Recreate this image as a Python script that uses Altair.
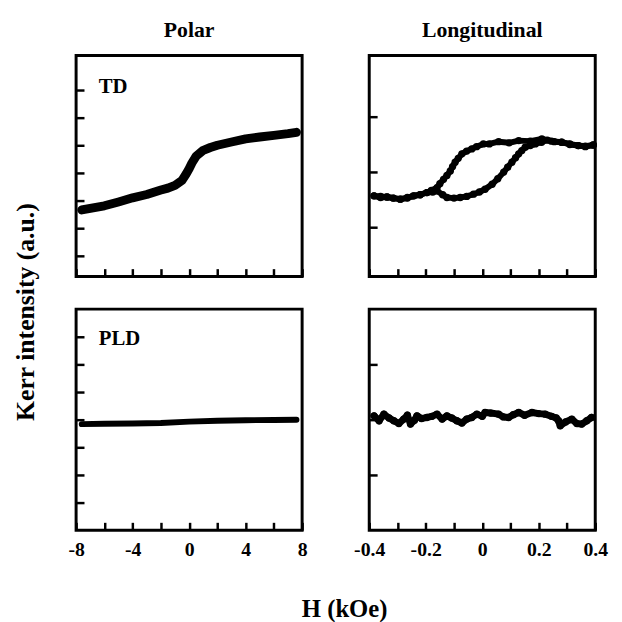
import altair as alt
import pandas as pd

FONT = "Liberation Serif"

# ---- data ----
# Polar, TD (H in kOe, Kerr intensity in a.u.)
pol_td_h = [-7.6, -7, -6, -5, -4, -3, -2, -1.5, -1, -0.5, -0.2, 0, 0.2, 0.5, 1, 1.5, 2, 3, 4, 5, 6, 7, 7.6]
pol_td_k = [2.66, 2.72, 2.81, 2.95, 3.10, 3.22, 3.38, 3.45, 3.55, 3.73, 3.97, 4.15, 4.36, 4.61, 4.82, 4.92, 5.00, 5.12, 5.23, 5.30, 5.36, 5.42, 5.47]

# Polar, PLD
pol_pld_h = [-7.6, -6, -4, -2, 0, 2, 4, 6, 7.6]
pol_pld_k = [3.84, 3.85, 3.86, 3.88, 3.93, 3.96, 3.98, 3.99, 4.00]

# Longitudinal, TD: field sweep down (upper branch) and up (lower branch)
lon_td_down_h = [0.393, 0.365, 0.340, 0.310, 0.281, 0.245, 0.211, 0.170, 0.129, 0.095, 0.058, 0.025, 0.004, -0.020, -0.037, -0.055, -0.072, -0.085, -0.096, -0.105, -0.113, -0.125, -0.137, -0.150, -0.160, -0.180, -0.196, -0.220, -0.243, -0.265, -0.290, -0.315, -0.337, -0.360, -0.383]
lon_td_down_k = [2.48, 2.45, 2.47, 2.50, 2.53, 2.55, 2.59, 2.55, 2.56, 2.52, 2.54, 2.50, 2.50, 2.45, 2.41, 2.37, 2.32, 2.24, 2.17, 2.09, 2.01, 1.93, 1.86, 1.78, 1.71, 1.66, 1.62, 1.58, 1.56, 1.52, 1.50, 1.52, 1.54, 1.53, 1.56]
lon_td_up_h = [-0.383, -0.360, -0.337, -0.315, -0.290, -0.265, -0.243, -0.220, -0.196, -0.175, -0.160, -0.140, -0.125, -0.100, -0.078, -0.055, -0.031, -0.010, 0.010, 0.035, 0.055, 0.076, 0.090, 0.105, 0.118, 0.129, 0.140, 0.152, 0.170, 0.188, 0.210, 0.230, 0.255, 0.281, 0.310, 0.340, 0.365, 0.393]
lon_td_up_k = [1.56, 1.55, 1.54, 1.52, 1.50, 1.53, 1.56, 1.58, 1.62, 1.63, 1.65, 1.58, 1.53, 1.52, 1.53, 1.55, 1.59, 1.63, 1.68, 1.77, 1.87, 1.99, 2.08, 2.17, 2.25, 2.32, 2.38, 2.44, 2.47, 2.50, 2.53, 2.57, 2.54, 2.53, 2.49, 2.47, 2.46, 2.48]

# Longitudinal, PLD
lon_pld_h = [-0.383, -0.365, -0.348, -0.330, -0.313, -0.295, -0.278, -0.265, -0.254, -0.240, -0.231, -0.215, -0.196, -0.178, -0.160, -0.142, -0.125, -0.108, -0.090, -0.072, -0.055, -0.037, -0.019, 0.000, 0.010, 0.030, 0.058, 0.075, 0.093, 0.110, 0.129, 0.150, 0.176, 0.200, 0.223, 0.245, 0.262, 0.270, 0.276, 0.295, 0.317, 0.335, 0.352, 0.370, 0.387]
lon_pld_k = [2.07, 1.98, 2.10, 2.03, 1.98, 1.93, 2.01, 2.08, 1.92, 1.99, 2.07, 2.02, 2.04, 2.06, 2.10, 2.01, 2.07, 2.03, 1.98, 1.94, 2.01, 2.04, 2.10, 2.06, 2.13, 2.12, 2.10, 2.05, 2.04, 2.09, 2.13, 2.08, 2.13, 2.11, 2.10, 2.06, 2.03, 1.98, 1.89, 1.96, 2.01, 1.93, 1.92, 1.98, 2.04]

pol_ticks_x = [-8, -6, -4, -2, 0, 2, 4, 6, 8]
lon_ticks_x = [-0.4, -0.3, -0.2, -0.1, 0, 0.1, 0.2, 0.3, 0.4]
pol_ticks_y = [1, 2, 3, 4, 5, 6, 7]
lon_ticks_y = [1, 2, 3]

POL_LABELS = "abs(datum.value) % 4 == 0 ? ((datum.value < 0 ? '-' : '') + format(abs(datum.value), 'd')) : ''"
LON_LABELS = ("round(abs(datum.value) * 10) % 2 == 0 ? (datum.value == 0 ? '0' : "
              "((datum.value < 0 ? '-' : '') + format(abs(datum.value), '.1f'))) : ''")

W, H = 229, 224
TICK = 8


def xaxis(vals, show, expr):
    kw = dict(values=vals, tickSize=TICK, offset=-TICK, domain=False, grid=False, title=None,
              tickWidth=2.5, tickColor="black", labelFlush=False, labelOverlap=False)
    if show:
        kw.update(labels=True, labelExpr=expr, labelFont=FONT, labelFontSize=20,
                  labelFontWeight="bold", labelColor="black", labelPadding=10)
    else:
        kw.update(labels=False)
    return alt.Axis(**kw)


def yaxis(vals):
    return alt.Axis(values=vals, tickSize=TICK, offset=-TICK, domain=False, grid=False, title=None,
                    tickWidth=2.5, tickColor="black", labels=False)


def frame(h, k, b=None):
    d = pd.DataFrame({"h": h, "k": k})
    d["i"] = range(len(d))
    d["b"] = b if b is not None else "a"
    return d


def panel(df, xdom, ydom, xax, yax, tag, tag_y, line_w, dots, title=None):
    enc = dict(
        x=alt.X("h:Q", scale=alt.Scale(domain=xdom, nice=False, zero=False), axis=xax),
        y=alt.Y("k:Q", scale=alt.Scale(domain=ydom, nice=False, zero=False), axis=yax),
    )
    base = alt.Chart(df).encode(**enc)
    layers = [base.mark_line(color="black", strokeWidth=line_w, strokeCap="round", strokeJoin="round",
                             interpolate="linear").encode(order="i:Q", detail="b:N")]
    if dots:
        layers.append(base.mark_circle(color="black", opacity=1, size=55))
    if tag:
        layers.append(alt.Chart(pd.DataFrame({"t": [tag]})).mark_text(
            font=FONT, fontSize=21, fontWeight="bold", color="black", align="left", baseline="middle"
        ).encode(text="t:N", x=alt.value(23), y=alt.value(tag_y)))
    ch = alt.layer(*layers).properties(width=W, height=H)
    if title:
        ch = ch.properties(title=alt.TitleParams(title, font=FONT, fontSize=22, fontWeight="bold",
                                                 color="black", offset=14, anchor="middle"))
    return ch


df_pol_td = frame(pol_td_h, pol_td_k)
df_pol_pld = frame(pol_pld_h, pol_pld_k)
df_lon_td = pd.concat([frame(lon_td_down_h, lon_td_down_k, "down"),
                       frame(lon_td_up_h, lon_td_up_k, "up")], ignore_index=True)
df_lon_pld = frame(lon_pld_h, lon_pld_k)

tl = panel(df_pol_td, [-8, 8], [0.25, 8.25], xaxis(pol_ticks_x, False, POL_LABELS), yaxis(pol_ticks_y),
           "TD", 32, 9, False, "Polar")
tr = panel(df_lon_td, [-0.4, 0.4], [0.1, 4.1], xaxis(lon_ticks_x, False, LON_LABELS), yaxis(lon_ticks_y),
           None, 0, 6, True, "Longitudinal")
bl = panel(df_pol_pld, [-8, 8], [0, 8], xaxis(pol_ticks_x, True, POL_LABELS), yaxis(pol_ticks_y),
           "PLD", 30, 6, False)
br = panel(df_lon_pld, [-0.4, 0.4], [0, 4], xaxis(lon_ticks_x, True, LON_LABELS), yaxis(lon_ticks_y),
           None, 0, 7, True)

top = alt.hconcat(tl, tr, spacing=68, bounds="flush")
bottom = alt.hconcat(bl, br, spacing=68, bounds="flush")
grid = alt.vconcat(top, bottom, spacing=28).properties(
    title=alt.TitleParams("Kerr intensity (a.u.)", orient="left", font=FONT, fontSize=26,
                          fontWeight="bold", color="black", offset=28, anchor="middle", dx=-23))
chart = alt.vconcat(grid).properties(
    title=alt.TitleParams("H (kOe)", orient="bottom", font=FONT, fontSize=25, fontWeight="bold",
                          color="black", offset=36, anchor="middle", dx=34),
    background="white",
).configure_view(stroke="black", strokeWidth=3)

chart.save("out.html", embed_options={"renderer": "svg", "actions": False})
